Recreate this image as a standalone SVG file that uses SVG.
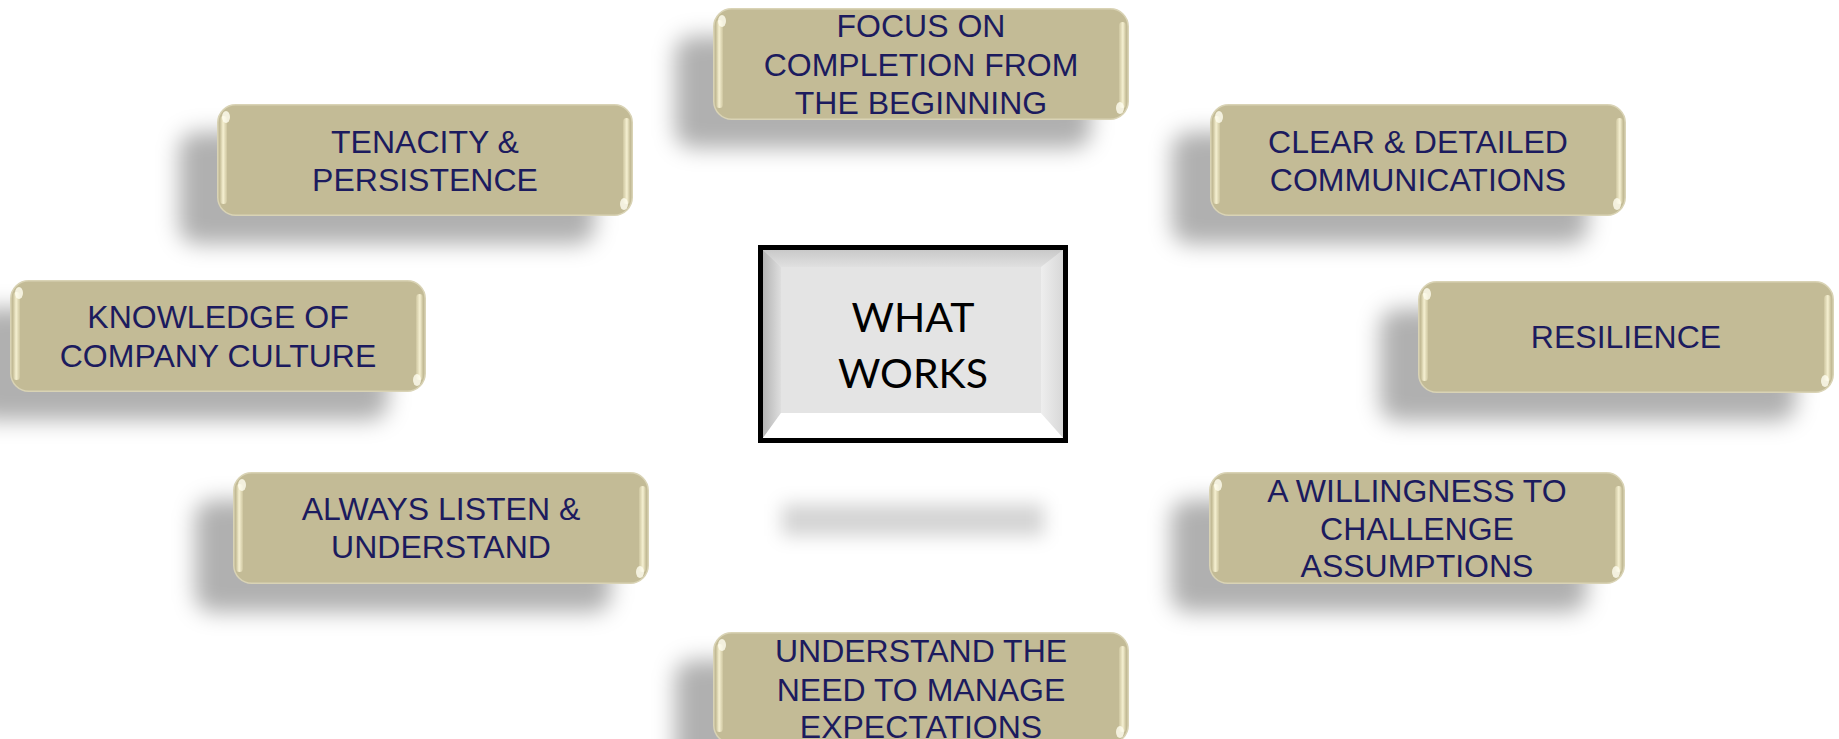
<svg xmlns="http://www.w3.org/2000/svg" xmlns:xlink="http://www.w3.org/1999/xlink" width="1839" height="739" viewBox="0 0 1839 739">
  <style>
    .lbl { font-family: "Liberation Sans", Arial, sans-serif; font-size: 32px; fill: #1c1b5e; text-anchor: middle; }
    .hub { font-family: Lato, "Open Sans", sans-serif; font-size: 41px; fill: #000; text-anchor: middle; }
    .shadow { fill: #000; fill-opacity: 0.31; filter: url(#soft); }
  </style>
  <defs>
    <filter id="soft" x="-30%" y="-80%" width="160%" height="260%">
      <feGaussianBlur stdDeviation="11"/>
    </filter>
    <filter id="haze" x="-30%" y="-120%" width="160%" height="340%">
      <feGaussianBlur stdDeviation="9"/>
    </filter>
    <linearGradient id="stripL" x1="0" y1="0" x2="1" y2="0">
      <stop offset="0" stop-color="#c8c09a"/>
      <stop offset="0.45" stop-color="#fbf6d8"/>
      <stop offset="1" stop-color="#cfc7a1"/>
    </linearGradient>
    <linearGradient id="stripR" x1="0" y1="0" x2="1" y2="0">
      <stop offset="0" stop-color="#cfc7a1"/>
      <stop offset="0.55" stop-color="#fbf6d8"/>
      <stop offset="1" stop-color="#c8c09a"/>
    </linearGradient>
    <linearGradient id="bevelTop" x1="0" y1="0" x2="0" y2="1">
      <stop offset="0" stop-color="#c9c9c9"/>
      <stop offset="1" stop-color="#e0e0e0"/>
    </linearGradient>
    <linearGradient id="bevelLeft" x1="0" y1="0" x2="1" y2="0">
      <stop offset="0" stop-color="#b4b4b4"/>
      <stop offset="1" stop-color="#dedede"/>
    </linearGradient>
    <linearGradient id="bevelRight" x1="0" y1="0" x2="1" y2="0">
      <stop offset="0" stop-color="#eeeeee"/>
      <stop offset="1" stop-color="#d8d8d8"/>
    </linearGradient>
    <!-- glossy khaki pill, 416 x 112 -->
    <symbol id="pill" viewBox="0 0 416 112" width="416" height="112" overflow="visible">
      <rect x="0.75" y="0.75" width="414.5" height="110.5" rx="18" fill="#c3bb96" stroke="#d9d3b5" stroke-width="1.5"/>
      <rect x="3" y="12" width="7" height="88" rx="3.5" fill="url(#stripL)" opacity="0.9"/>
      <ellipse cx="9" cy="13" rx="4" ry="6" fill="#fffef0" opacity="0.8"/>
      <rect x="406" y="14" width="7" height="86" rx="3.5" fill="url(#stripR)" opacity="0.9"/>
      <ellipse cx="407" cy="100" rx="4" ry="6" fill="#fffef0" opacity="0.8"/>
    </symbol>
  </defs>

  <rect width="1839" height="739" fill="#ffffff"/>

  <g id="connectors"></g>

  <g id="hub">
    <rect x="782" y="504" width="262" height="32" fill="#000" fill-opacity="0.17" filter="url(#haze)"/>
    <rect x="758" y="245" width="310" height="198" fill="#000"/>
    <rect x="763" y="250" width="300" height="188" fill="#e4e4e4"/>
    <polygon points="763,250 1063,250 1043,267 781,267" fill="url(#bevelTop)"/>
    <polygon points="763,250 781,267 781,413 763,438" fill="url(#bevelLeft)"/>
    <polygon points="1063,250 1063,438 1041,413 1041,267" fill="url(#bevelRight)"/>
    <polygon points="763,438 781,413 1041,413 1063,438" fill="#ffffff"/>
    <text class="hub" x="913" y="332">WHAT</text>
    <text class="hub" x="913" y="388">WORKS</text>
  </g>

  <g id="focus">
    <rect class="shadow" x="675" y="36" width="416" height="112" rx="18"/>
    <use xlink:href="#pill" x="713" y="8"/>
    <text class="lbl" x="921" y="37">FOCUS ON</text>
    <text class="lbl" x="921" y="75.5">COMPLETION FROM</text>
    <text class="lbl" x="921" y="114">THE BEGINNING</text>
  </g>

  <g id="tenacity">
    <rect class="shadow" x="179" y="132" width="416" height="112" rx="18"/>
    <use xlink:href="#pill" x="217" y="104"/>
    <text class="lbl" x="425" y="153">TENACITY &amp;</text>
    <text class="lbl" x="425" y="191">PERSISTENCE</text>
  </g>

  <g id="clear">
    <rect class="shadow" x="1172" y="132" width="416" height="112" rx="18"/>
    <use xlink:href="#pill" x="1210" y="104"/>
    <text class="lbl" x="1418" y="153">CLEAR &amp; DETAILED</text>
    <text class="lbl" x="1418" y="191">COMMUNICATIONS</text>
  </g>

  <g id="knowledge">
    <rect class="shadow" x="-28" y="308" width="416" height="112" rx="18"/>
    <use xlink:href="#pill" x="10" y="280"/>
    <text class="lbl" x="218" y="327.5">KNOWLEDGE OF</text>
    <text class="lbl" x="218" y="366.5">COMPANY CULTURE</text>
  </g>

  <g id="resilience">
    <rect class="shadow" x="1380" y="309" width="416" height="112" rx="18"/>
    <use xlink:href="#pill" x="1418" y="281"/>
    <text class="lbl" x="1626" y="348">RESILIENCE</text>
  </g>

  <g id="listen">
    <rect class="shadow" x="195" y="500" width="416" height="112" rx="18"/>
    <use xlink:href="#pill" x="233" y="472"/>
    <text class="lbl" x="441" y="520">ALWAYS LISTEN &amp;</text>
    <text class="lbl" x="441" y="558">UNDERSTAND</text>
  </g>

  <g id="willingness">
    <rect class="shadow" x="1171" y="500" width="416" height="112" rx="18"/>
    <use xlink:href="#pill" x="1209" y="472"/>
    <text class="lbl" x="1417" y="502">A WILLINGNESS TO</text>
    <text class="lbl" x="1417" y="540">CHALLENGE</text>
    <text class="lbl" x="1417" y="577">ASSUMPTIONS</text>
  </g>

  <g id="expectations">
    <rect class="shadow" x="675" y="660" width="416" height="112" rx="18"/>
    <use xlink:href="#pill" x="713" y="632"/>
    <text class="lbl" x="921" y="662">UNDERSTAND THE</text>
    <text class="lbl" x="921" y="701">NEED TO MANAGE</text>
    <text class="lbl" x="921" y="738">EXPECTATIONS</text>
  </g>
</svg>
